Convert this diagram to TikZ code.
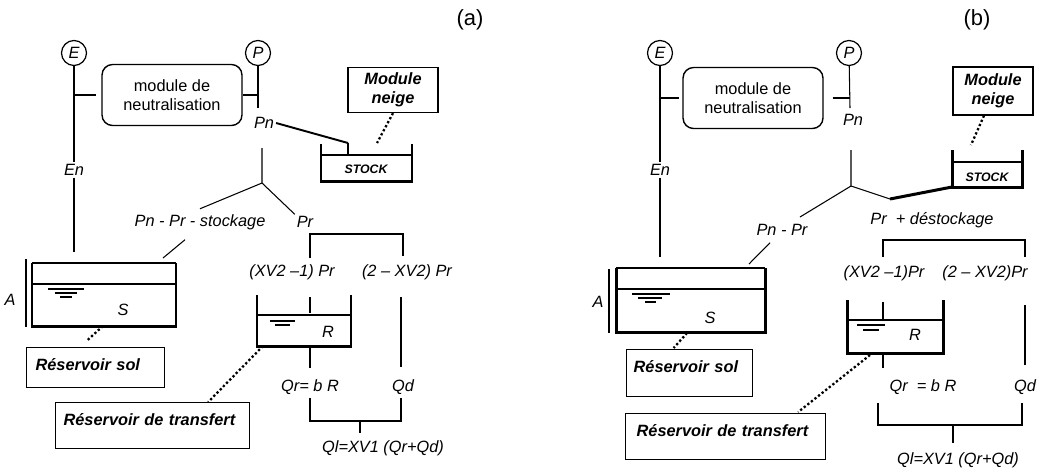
\documentclass[tikz,border=0pt]{standalone}
\usepackage{fontspec}
\setmainfont{Liberation Sans}
\usepackage{tikz}
\usetikzlibrary{positioning, calc}

\begin{document}
\begin{tikzpicture}[x=0.02cm, y=-0.02cm,
    every node/.style={font=\fontsize{9.3}{11}\selectfont},
    var/.style={font=\fontsize{9.3}{11}\selectfont\itshape, inner sep=1pt},
    paneltag/.style={font=\fontsize{12.5}{14}\selectfont},
    term/.style={circle, draw, line width=0.7pt, minimum size=0.5cm, inner sep=0pt, font=\fontsize{9.3}{11}\selectfont\itshape},
    module/.style={rectangle, draw, line width=0.8pt, rounded corners=6pt, minimum width=2.8cm, minimum height=1.22cm, align=center},
    snow/.style={rectangle, draw, line width=0.7pt, align=center, inner sep=1pt, font=\fontsize{9.3}{11}\selectfont\bfseries\itshape},
    resbox/.style={rectangle, draw, line width=0.7pt, align=left, anchor=north west, inner ysep=0.2cm, text height=0.25cm, font=\fontsize{9.3}{11}\selectfont\bfseries\itshape},
    stock/.style={font=\fontsize{7}{8}\selectfont\bfseries\itshape, inner sep=1pt},
    line/.style={draw, line width=0.6pt},
    wall/.style={draw, line width=1.7pt},
    link/.style={draw, line width=1.3pt, dash pattern=on 1.3pt off 1.3pt}]

    \useasboundingbox (0,0) rectangle (1051,468);

    % (a)
    \node [paneltag] (taga) at (470,20) {(a)};
    \node [term] (Ea) at (74,53) {E};
    \node [term] (Pa) at (258,53) {P};
    \node [module] (Ma) at (172,95) {module de\\neutralisation};
    \node [var] (Ena) at (74,170) {En};
    \node [var] (Pna) at (264,123) {Pn};
    \node [snow, minimum width=1.8cm, minimum height=0.9cm] (Na) at (393,90) {Module\\neige};
    \node [stock] (Sta) at (366,169) {STOCK};
    \node [var] (PnPra) at (200,222) {Pn - Pr - stockage};
    \node [var] (Pra) at (305,222) {Pr};
    \node [var] (XVa) at (292,272) {(XV2 –1) Pr};
    \node [var] (XWa) at (407,272) {(2 – XV2) Pr};
    \node [var] (Sa) at (123,310) {S};
    \node [var] (Aa) at (10,300) {A};
    \node [var] (Ra) at (328,332) {R};
    \node [var] (Qra) at (310,387) {Qr= b R};
    \node [var] (Qda) at (403,387) {Qd};
    \node [var] (Qla) at (383,448) {Ql=XV1 (Qr+Qd)};
    \node [resbox, text width=2.4cm, inner xsep=0.18cm, text depth=0.15cm] (RSa) at (26,347) {Réservoir sol};
    \node [resbox, text width=3.56cm, inner xsep=0.16cm, text depth=0.27cm] (RTa) at (55,402) {Réservoir de transfert};

    \coordinate (Ea-j) at (74,95);
    \coordinate (Ea-b) at (74,252);
    \coordinate (Pa-j) at (258,95);
    \coordinate (Pa-b) at (258,108);
    \coordinate (Sta-in) at (348,143);
    \coordinate (Sta-w) at (348,155);
    \coordinate (Sta-d) at (377,143);
    \coordinate (Ja-t) at (262,148);
    \coordinate (Ja) at (262,183);
    \coordinate (Sa-in) at (163,258);
    \coordinate (Sa-d) at (103,326);
    \coordinate (Ra-d) at (263,346);
    \coordinate (Bra-l) at (310,258);
    \coordinate (Bra-t) at (310,234);
    \coordinate (Bra-r) at (403,256);
    \coordinate (Ra-t) at (310,297);
    \coordinate (Ra-in) at (310,313);
    \coordinate (Ra-out) at (310,346);
    \coordinate (Qra-t) at (310,368);
    \coordinate (Qda-t) at (401,297);
    \coordinate (Qda-b) at (401,367);
    \coordinate (Bqa-l) at (310,398);
    \coordinate (Bqa-r) at (401,398);
    \coordinate (Bqa-m) at (360,421);
    \coordinate (Bqa-b) at (360,433);

    % tanks
    \path [wall] (32,263) |- (176,326) -- (176,263);
    \path [line] (32,263) -- (176,263) (32,284) -- (176,284);
    \path [line] (48,289) -- (84,289) (55,293) -- (77,293) (60,297) -- (72,297);
    \path [line] (26,259) -- (26,327);
    \path [wall] (321,144) |- (412,181) -- (412,144);
    \path [line] (321,155) -- (412,155);
    \path [wall] (257,295) |- (351,346) -- (351,295);
    \path [line] (257,315) -- (351,315);
    \path [line] (270,321) -- (295,321) (275,325) -- (290,325);

    \path [line] (Ea) -- (Ena);
    \path [line] (Ena) -- (Ea-b);
    \path [line] (Ea-j) -- ([xshift=-0.1cm]Ma.west);
    \path [line] (Pa) -- (Pa-b);
    \path [line] (Ma.east) -- (Pa-j);
    \path [line, line width=1.1pt] (Pna.east) -- (Sta-in);
    \path [line] (Sta-in) -- (Sta-w);
    \path [link] (Na.south) -- (Sta-d);
    \path [line] (Ja-t) -- (Ja) -- ([yshift=2pt]PnPra.north);
    \path [line] (Ja) -- (Pra.north west);
    \path [line] ($(PnPra.south)+(-15,8)$) -- (Sa-in);
    \path [line] (Bra-l) -- (Bra-t) -- (Bra-t -| Bra-r) -- (Bra-r);
    \path [line] (Ra-t) -- (Ra-in);
    \path [line] (Ra-out) -- (Qra-t);
    \path [line] (Qda-t) -- (Qda-b);
    \path [line] (Bqa-l) |- (Bqa-m) -| (Bqa-r);
    \path [line] (Bqa-m) -- (Bqa-b);
    \path [link] (Sa-d) -- ($(RSa.north)+(-8,-7)$);
    \path [link] (Ra-d) -- ($(RTa.north east)+(-42,0)$);

    % (b)
    \node [paneltag] (tagb) at (977,20) {(b)};
    \node [term] (Eb) at (660,53) {E};
    \node [term] (Pb) at (849,53) {P};
    \node [module] (Mb) at (753,98) {module de\\neutralisation};
    \node [var] (Enb) at (660,170) {En};
    \node [var] (Pnb) at (853,120) {Pn};
    \node [snow, minimum width=1.6cm, minimum height=0.96cm] (Nb) at (993,91) {Module\\neige};
    \node [stock] (Stb) at (987,177) {STOCK};
    \node [var] (PnPrb) at (782,230) {Pn - Pr};
    \node [var] (Prb) at (932,220) {Pr\ \ + déstockage};
    \node [var] (XVb) at (884,273) {(XV2 –1)Pr};
    \node [var] (XWb) at (985,273) {(2 – XV2)Pr};
    \node [var] (Sb) at (710,318) {S};
    \node [var] (Ab) at (598,302) {A};
    \node [var] (Rb) at (915,335) {R};
    \node [var] (Qrb) at (923,387) {Qr\ \ = b R};
    \node [var] (Qdb) at (1025,387) {Qd};
    \node [var] (Qlb) at (958,460) {Ql=XV1 (Qr+Qd)};
    \node [resbox, text width=2.24cm, inner xsep=0.14cm, text depth=0.29cm] (RSb) at (626,349) {Réservoir sol};
    \node [resbox, text width=3.56cm, inner xsep=0.22cm, text depth=0.27cm] (RTb) at (625,413) {Réservoir de transfert};

    \coordinate (Eb-j) at (660,98);
    \coordinate (Eb-b) at (660,257);
    \coordinate (Pb-j) at (850,98);
    \coordinate (Pb-b) at (850,108);
    \coordinate (Jb-t) at (851,150);
    \coordinate (Jb) at (851,186);
    \coordinate (Jb-l) at (800,217);
    \coordinate (Jb-r) at (890,199);
    \coordinate (Stb-in) at (952,187);
    \coordinate (Stb-d) at (971,145);
    \coordinate (Sb-in) at (749,264);
    \coordinate (Sb-d) at (687,333);
    \coordinate (Rb-d) at (870,355);
    \coordinate (Brb-l) at (883,257);
    \coordinate (Brb-t) at (883,240);
    \coordinate (Brb-r) at (1025,257);
    \coordinate (Rb-t) at (883,302);
    \coordinate (Rb-in) at (883,319);
    \coordinate (Rb-out) at (883,353);
    \coordinate (Qrb-t) at (883,368);
    \coordinate (Qdb-t) at (1025,305);
    \coordinate (Qdb-b) at (1025,365);
    \coordinate (Bqb-l) at (878,403);
    \coordinate (Bqb-r) at (1022,403);
    \coordinate (Bqb-m) at (953,425);
    \coordinate (Bqb-b) at (953,443);

    % tanks
    \path [wall] (616,268) |- (765,332) -- (765,268);
    \path [line] (616,268) -- (765,268) (616,289) -- (765,289);
    \path [line] (632,294) -- (670,294) (638,298) -- (662,298) (645,302) -- (656,302);
    \path [line] (609,269) -- (609,333);
    \path [wall] (952,150) |- (1022,187) -- (1022,150);
    \path [line] (952,162) -- (1022,162);
    \path [wall] (847,300) |- (943,353) -- (943,300);
    \path [line] (847,320) -- (943,320);
    \path [line] (857,325) -- (885,325) (863,330) -- (879,330);

    \path [line] (Eb) -- (Enb);
    \path [line] (Enb) -- (Eb-b);
    \path [line] (Eb-j) -- ([xshift=-0.06cm]Mb.west);
    \path [line] (Pb) -- (Pb-b);
    \path [line] ([xshift=0.18cm]Mb.east) -- (Pb-j);
    \path [line] (Jb-t) -- (Jb) -- (Jb-l);
    \path [line] ($(PnPrb.south)+(-12,5)$) -- (Sb-in);
    \path [line] (Jb) -- (Jb-r);
    \path [wall] (Jb-r) -- (Stb-in);
    \path [link] ([xshift=-0.18cm]Nb.south) -- (Stb-d);
    \path [line] (Brb-l) -- (Brb-t) -- (Brb-t -| Brb-r) -- (Brb-r);
    \path [line] (Rb-t) -- (Rb-in);
    \path [line] (Rb-out) -- (Qrb-t);
    \path [line] (Qdb-t) -- (Qdb-b);
    \path [line] (Bqb-l) |- (Bqb-m) -| (Bqb-r);
    \path [line] (Bqb-m) -- (Bqb-b);
    \path [link] (Sb-d) -- ($(RSb.north)+(-16,-1)$);
    \path [link] (Rb-d) -- ($(RTb.north east)+(-28,-1)$);
\end{tikzpicture}
\end{document}
